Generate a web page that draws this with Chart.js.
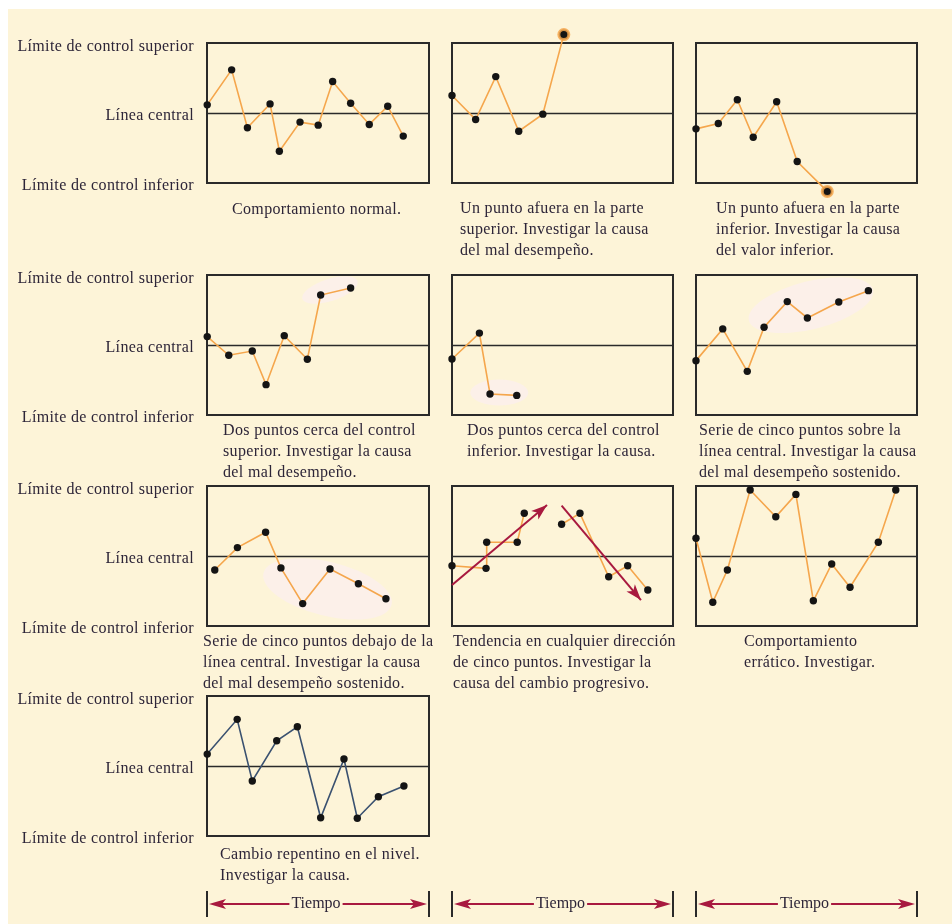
<!DOCTYPE html>
<html lang="es">
<head>
<meta charset="utf-8">
<title>Patrones en gráficos de control</title>
<script src="https://cdn.jsdelivr.net/npm/chart.js@4.4.1/dist/chart.umd.min.js"></script>
<style>
  html, body { margin: 0; padding: 0; background: #fff; }
  #page { position: absolute; left: 8px; top: 9px; width: 944px; height: 915px; background: #fdf4d8; }
  #fig { position: absolute; left: 0; top: 0; width: 952px; height: 924px; }
  canvas { position: absolute; }
  .txt { position: absolute; font-family: "Liberation Serif", "Times New Roman", serif; font-size: 16px;
         letter-spacing: 0.35px; color: #2d2538; line-height: 21px; white-space: nowrap; }
  .lbl { text-align: right; width: 190px; }
</style>
</head>
<body>
<div id="page"></div>
<div id="fig"></div>
<script>
// eje x = % del tiempo del recuadro, eje y = sigmas (LCS = 3, LCI = -3)
var normalX = [0.1, 11.1, 18.2, 28.4, 32.6, 41.9, 50.1, 56.6, 64.7, 73.1, 81.4, 88.4];
var normalY = [0.35, 1.85, -0.63, 0.39, -1.64, -0.39, -0.52, 1.35, 0.42, -0.49, 0.29, -0.99];

var arribaX = [0, 10.7, 19.8, 30.2, 41.1, 50.6];
var arribaY = [0.75, -0.28, 1.56, -0.78, -0.05, 3.36];

var abajoX = [0, 10.1, 18.7, 25.9, 36.5, 45.8, 59.4];
var abajoY = [-0.68, -0.45, 0.57, -1.04, 0.48, -2.08, -3.36];

var dosSupX = [0.1, 9.8, 20.4, 26.6, 34.8, 45.2, 51.2, 64.7];
var dosSupY = [0.36, -0.44, -0.26, -1.70, 0.40, -0.61, 2.14, 2.44];

var dosInfX = [0, 12.4, 17.2, 29.3];
var dosInfY = [-0.6, 0.51, -2.1, -2.16];

var sobreX = [0, 12.1, 23.2, 30.8, 41.3, 50.4, 64.6, 78.0];
var sobreY = [-0.67, 0.69, -1.13, 0.76, 1.86, 1.16, 1.84, 2.33];

var debajoX = [3.5, 13.7, 26.4, 33.3, 43.1, 55.4, 68.2, 80.6];
var debajoY = [-0.6, 0.36, 1.02, -0.51, -2.04, -0.56, -1.19, -1.83];

var subeX = [0, 15.4, 15.7, 29.5, 32.7];
var subeY = [-0.42, -0.53, 0.59, 0.59, 1.83];
var bajaX = [49.6, 57.9, 70.9, 79.5, 88.6];
var bajaY = [1.36, 1.83, -0.89, -0.42, -1.46];
var flechaSubeX = [0, 43];
var flechaSubeY = [-1.24, 2.19];
var flechaBajaX = [49.6, 85.5];
var flechaBajaY = [2.16, -1.89];

var erraticoX = [0, 7.6, 14.2, 24.5, 36.1, 45.2, 53.1, 61.4, 69.7, 82.5, 90.4];
var erraticoY = [0.76, -1.98, -0.6, 2.83, 1.68, 2.64, -1.92, -0.34, -1.34, 0.59, 2.83];

var cambioX = [0.1, 13.6, 20.4, 31.4, 40.7, 51.2, 61.7, 67.7, 77.2, 88.7];
var cambioY = [0.51, 2.0, -0.64, 1.08, 1.68, -2.22, 0.3, -2.24, -1.32, -0.86];

var etiquetas = ["Límite de control superior", "Línea central", "Límite de control inferior"];
var tiempo = "Tiempo";

var colLeft = [207, 452, 696], colW = [222, 221, 221];
var rowTop = [43, 275, 486, 696], boxH = 140;
var PAD = 24;          // margen del lienzo alrededor del recuadro
var EXTRA = 0.9;       // unidades de y fuera de los limites (puntos fuera de control)
var NARANJA = '#f5a64c', AZUL = '#3a5170', ROJO = '#a8193f', TINTA = '#2d2538';

var paneles = [
  { col: 0, row: 0, series: [[normalX, normalY]], cap: ["Comportamiento normal."], capX: 232, capY: 208 },
  { col: 1, row: 0, series: [[arribaX, arribaY]], outlier: 5,
    cap: ["Un punto afuera en la parte", "superior. Investigar la causa", "del mal desempeño."], capX: 460, capY: 207 },
  { col: 2, row: 0, series: [[abajoX, abajoY]], outlier: 6,
    cap: ["Un punto afuera en la parte", "inferior. Investigar la causa", "del valor inferior."], capX: 716, capY: 207 },
  { col: 0, row: 1, series: [[dosSupX, dosSupY]], hl: [{ x: 55.4, y: 2.36, rx: 29, ry: 11, rot: -18 }],
    cap: ["Dos puntos cerca del control", "superior. Investigar la causa", "del mal desempeño."], capX: 223, capY: 429 },
  { col: 1, row: 1, series: [[dosInfX, dosInfY]], hl: [{ x: 21.4, y: -2.04, rx: 29, ry: 13, rot: 0 }],
    cap: ["Dos puntos cerca del control", "inferior. Investigar la causa."], capX: 467, capY: 429 },
  { col: 2, row: 1, series: [[sobreX, sobreY]], hl: [{ x: 52.0, y: 1.71, rx: 64, ry: 24, rot: -14 }],
    cap: ["Serie de cinco puntos sobre la", "línea central. Investigar la causa", "del mal desempeño sostenido."], capX: 699, capY: 429 },
  { col: 0, row: 2, series: [[debajoX, debajoY]], hl: [{ x: 54.3, y: -1.41, rx: 66, ry: 27, rot: 14 }],
    cap: ["Serie de cinco puntos debajo de la", "línea central. Investigar la causa", "del mal desempeño sostenido."], capX: 203, capY: 640 },
  { col: 1, row: 2, series: [[subeX, subeY], [bajaX, bajaY]], arrows: [[flechaSubeX, flechaSubeY], [flechaBajaX, flechaBajaY]],
    cap: ["Tendencia en cualquier dirección", "de cinco puntos. Investigar la", "causa del cambio progresivo."], capX: 453, capY: 640 },
  { col: 2, row: 2, series: [[erraticoX, erraticoY]], cap: ["Comportamiento", "errático. Investigar."], capX: 744, capY: 640 },
  { col: 0, row: 3, series: [[cambioX, cambioY]], color: AZUL,
    cap: ["Cambio repentino en el nivel.", "Investigar la causa."], capX: 220, capY: 853 }
];

var fig = document.getElementById('fig');

function addText(str, left, centerY, cls) {
  var d = document.createElement('div');
  d.className = 'txt ' + (cls || '');
  d.textContent = str;
  d.style.left = left + 'px';
  d.style.top = (centerY - 10.5) + 'px';
  fig.appendChild(d);
}

function arrowHead(ctx, tx, ty, ang, len, half, notch) {
  ctx.beginPath();
  ctx.moveTo(tx, ty);
  ctx.lineTo(tx - len * Math.cos(ang) + half * Math.sin(ang), ty - len * Math.sin(ang) - half * Math.cos(ang));
  ctx.lineTo(tx - (len - notch) * Math.cos(ang), ty - (len - notch) * Math.sin(ang));
  ctx.lineTo(tx - len * Math.cos(ang) - half * Math.sin(ang), ty - len * Math.sin(ang) + half * Math.cos(ang));
  ctx.closePath();
  ctx.fill();
}

var controlPlugin = {
  id: 'control',
  beforeDatasetsDraw: function (chart, args, opts) {
    var ctx = chart.ctx, a = chart.chartArea, x = chart.scales.x, y = chart.scales.y;
    var top = y.getPixelForValue(3), bot = y.getPixelForValue(-3);
    ctx.save();
    (opts.hl || []).forEach(function (h) {
      ctx.beginPath();
      ctx.ellipse(x.getPixelForValue(h.x), y.getPixelForValue(h.y), h.rx, h.ry, h.rot * Math.PI / 180, 0, Math.PI * 2);
      ctx.fillStyle = '#fcf0e9';
      ctx.fill();
    });
    ctx.strokeStyle = '#2a2a2a';
    ctx.lineWidth = 2;
    ctx.strokeRect(a.left, top, a.width, bot - top);
    var cy = Math.round(y.getPixelForValue(0)) + 0.5;
    ctx.lineWidth = 1.5;
    ctx.beginPath(); ctx.moveTo(a.left, cy); ctx.lineTo(a.right, cy); ctx.stroke();
    ctx.restore();
  },
  afterDatasetsDraw: function (chart) {
    var ctx = chart.ctx;
    chart.data.datasets.forEach(function (ds, i) {
      if (!ds.arrow) return;
      var pts = chart.getDatasetMeta(i).data;
      var p = pts[pts.length - 1], q = pts[pts.length - 2];
      var ang = Math.atan2(p.y - q.y, p.x - q.x);
      ctx.save();
      ctx.fillStyle = ROJO;
      arrowHead(ctx, p.x, p.y, ang, 16, 5.5, 4);
      ctx.restore();
    });
  }
};

function pts(xs, ys) { return xs.map(function (v, i) { return { x: v, y: ys[i] }; }); }

var padY = PAD - EXTRA * boxH / 6;

paneles.forEach(function (p) {
  var w = colW[p.col], left = colLeft[p.col], top = rowTop[p.row];
  var cv = document.createElement('canvas');
  cv.width = w + 2 * PAD; cv.height = boxH + 2 * PAD;
  cv.style.left = (left - PAD) + 'px'; cv.style.top = (top - PAD) + 'px';
  fig.appendChild(cv);

  var datasets = [];
  (p.arrows || []).forEach(function (s) {
    datasets.push({ data: pts(s[0], s[1]), borderColor: ROJO, borderWidth: 2, pointRadius: 0, arrow: true, order: 0, clip: false });
  });
  p.series.forEach(function (s) {
    var n = s[0].length;
    var rad = [], bw = [], bc = [];
    for (var i = 0; i < n; i++) {
      var o = (p.outlier === i);
      rad.push(o ? 5 : 3.7);
      bw.push(o ? 3 : 0);
      bc.push(o ? 'rgba(245,166,76,0.85)' : '#111');
    }
    datasets.push({
      data: pts(s[0], s[1]), borderColor: p.color || NARANJA, borderWidth: 1.6, tension: 0,
      pointRadius: rad, pointBorderWidth: bw, pointBorderColor: bc, pointBackgroundColor: '#141414',
      order: 1, clip: false
    });
  });

  new Chart(cv, {
    type: 'line',
    data: { datasets: datasets },
    options: {
      responsive: false, animation: false, events: [],
      layout: { autoPadding: false, padding: { left: PAD, right: PAD, top: padY, bottom: padY } },
      scales: {
        x: { type: 'linear', min: 0, max: 100, display: false },
        y: { type: 'linear', min: -3 - EXTRA, max: 3 + EXTRA, display: false }
      },
      plugins: { legend: { display: false }, tooltip: { enabled: false }, control: { hl: p.hl || [] } }
    },
    plugins: [controlPlugin]
  });

  p.cap.forEach(function (line, k) { addText(line, p.capX, p.capY + k * 21); });
});

// etiquetas de los limites a la izquierda de cada fila
rowTop.forEach(function (t) {
  addText(etiquetas[0], 4, t + 2, 'lbl');
  addText(etiquetas[1], 4, t + 71, 'lbl');
  addText(etiquetas[2], 4, t + 141, 'lbl');
});

// reglas de "Tiempo"
var rc = document.createElement('canvas');
rc.width = 952; rc.height = 40;
rc.style.left = '0px'; rc.style.top = '885px';
fig.appendChild(rc);
var g = rc.getContext('2d');
g.font = '16px "Liberation Serif", "Times New Roman", serif';
g.textBaseline = 'middle';
colLeft.forEach(function (l, i) {
  var r = l + colW[i], ly = 19, mid = (l + r) / 2 - 2;
  g.strokeStyle = '#2a2a2a'; g.lineWidth = 2;
  g.beginPath(); g.moveTo(l, 6); g.lineTo(l, 32); g.moveTo(r, 6); g.lineTo(r, 32); g.stroke();
  var tw = g.measureText(tiempo).width;
  g.strokeStyle = ROJO; g.lineWidth = 2;
  g.beginPath();
  g.moveTo(l + 8, ly); g.lineTo(mid - tw / 2 - 2, ly);
  g.moveTo(mid + tw / 2 + 2, ly); g.lineTo(r - 8, ly);
  g.stroke();
  g.fillStyle = ROJO;
  arrowHead(g, l + 2, ly, Math.PI, 17, 5, 4);
  arrowHead(g, r - 2, ly, 0, 17, 5, 4);
  g.fillStyle = TINTA;
  g.textAlign = 'center';
  g.fillText(tiempo, mid, ly);
});
</script>
</body>
</html>
